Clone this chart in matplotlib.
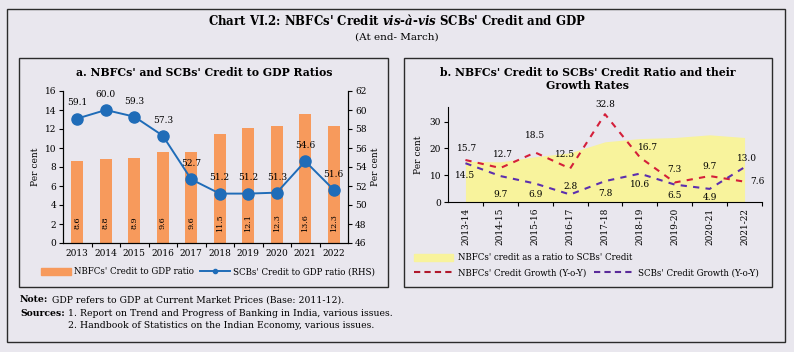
import matplotlib
matplotlib.use("Agg")
import matplotlib.pyplot as plt
from matplotlib.patches import Rectangle, Patch
from matplotlib.lines import Line2D

# ---------------- data ----------------
years = ["2013", "2014", "2015", "2016", "2017", "2018", "2019", "2020", "2021", "2022"]
nbfc_gdp = [8.6, 8.8, 8.9, 9.6, 9.6, 11.5, 12.1, 12.3, 13.6, 12.3]
scb_gdp = [59.1, 60.0, 59.3, 57.3, 52.7, 51.2, 51.2, 51.3, 54.6, 51.6]

fy = ["2013-14", "2014-15", "2015-16", "2016-17", "2017-18",
      "2018-19", "2019-20", "2020-21", "2021-22"]
nbfc_scb_ratio = [15.2, 15.0, 16.9, 18.4, 22.5, 23.7, 24.1, 25.1, 24.1]
nbfc_growth = [15.7, 12.7, 18.5, 12.5, 32.8, 16.7, 7.3, 9.7, 7.6]
scb_growth = [14.5, 9.7, 6.9, 2.8, 7.8, 10.6, 6.5, 4.9, 13.0]

# label offsets (points)
red_off = [(1, 8), (2, 10), (0, 12), (-4, 10), (0, 7), (6, 7), (0, 9), (0, 7), (9, 0)]
pur_off = [(0, -9), (0, -13), (0, -8), (0, 6), (0, -9), (0, -8), (0, -8), (0, -6), (2, 6)]

BG = "#e9e7ee"
ORANGE = "#f79a5c"
BLUE = "#1f6cb8"
YELLOW = "#f8f39c"
RED = "#d41f3a"
PURPLE = "#5c2fae"

plt.rcParams["font.family"] = ["DejaVu Serif"]
plt.rcParams["font.size"] = 6.5
plt.rcParams["mathtext.fontset"] = "custom"
plt.rcParams["mathtext.it"] = "DejaVu Serif:italic:bold"
plt.rcParams["mathtext.rm"] = "DejaVu Serif:bold"

W, H = 794, 352
fig = plt.figure(figsize=(W / 100, H / 100), dpi=100, facecolor=BG)


def fx(x):
    return x / W


def fy_(y):
    return 1 - y / H


def box(x0, y0, x1, y1, lw=1.0):
    fig.patches.append(Rectangle((fx(x0), fy_(y1)), fx(x1) - fx(x0), fy_(y0) - fy_(y1),
                                 transform=fig.transFigure, fill=False,
                                 edgecolor="#2b2b2b", linewidth=lw))


box(7, 9, 785, 342)
box(19, 58, 388, 287)
box(404, 58, 772, 287)

fig.text(0.5, fy_(22), "Chart VI.2: NBFCs' Credit $\\it{vis}$-$\\it{\\`a}$-$\\it{vis}$ SCBs' Credit and GDP",
         ha="center", va="center", fontsize=8.5, fontweight="bold")
fig.text(0.5, fy_(37), "(At end- March)", ha="center", va="center", fontsize=7.5)

# ---------------- panel a ----------------
ax = fig.add_axes([fx(63), fy_(243), fx(348) - fx(63), fy_(91) - fy_(243)])
ax.set_facecolor(BG)
x = list(range(len(years)))
ax.bar(x, nbfc_gdp, width=0.42, color=ORANGE, zorder=2)
for xi, v in zip(x, nbfc_gdp):
    ax.text(xi, 2.1, f"{v:.1f}", rotation=90, ha="center", va="center", fontsize=5.8, zorder=3)
ax.set_ylim(0, 16)
ax.set_yticks(range(0, 17, 2))
ax.set_xlim(-0.5, len(years) - 0.5)
ax.set_xticks([i + 0.5 for i in range(len(years) - 1)])
ax.set_xticklabels([])
ax.set_xticks(x, minor=True)
ax.set_xticklabels(years, minor=True)
ax.tick_params(axis="x", which="minor", length=0, pad=4)
ax.tick_params(axis="x", which="major", length=3)
ax.tick_params(axis="y", length=3, pad=2)
ax.set_ylabel("Per cent", labelpad=3)
ax.spines["top"].set_visible(False)

ax2 = ax.twinx()
ax2.plot(x, scb_gdp, color=BLUE, lw=1.4, marker="o", markersize=8, zorder=4)
for xi, v in zip(x, scb_gdp):
    ax2.annotate(f"{v:.1f}", (xi, v), xytext=(0, 8), textcoords="offset points",
                 ha="center", va="bottom", fontsize=6.5)
ax2.set_ylim(46, 62)
ax2.set_yticks(range(46, 63, 2))
ax2.tick_params(axis="y", length=3, pad=2)
ax2.set_ylabel("Per cent", labelpad=3)
ax2.spines["top"].set_visible(False)

fig.text(fx(204), fy_(72), "a. NBFCs' and SCBs' Credit to GDP Ratios", ha="center", va="center",
         fontsize=7.8, fontweight="bold")

h1 = Patch(color=ORANGE)
h2 = Line2D([], [], color=BLUE, lw=1.4, marker="o", markersize=3)
fig.legend([h1, h2], ["NBFCs' Credit to GDP ratio", "SCBs' Credit to GDP ratio (RHS)"],
           loc="center", bbox_to_anchor=(fx(208), fy_(272)), ncol=2, frameon=False,
           fontsize=6.2, handlelength=3.5, handletextpad=0.4, columnspacing=0.6)

# ---------------- panel b ----------------
bx = fig.add_axes([fx(448), fy_(202), fx(762) - fx(448), fy_(107) - fy_(202)])
bx.set_facecolor(BG)
xb = list(range(len(fy)))
bx.fill_between(xb, nbfc_scb_ratio, 0, color=YELLOW, lw=0, zorder=1)
bx.plot(xb, nbfc_growth, color=RED, lw=1.5, ls=(0, (3, 3)), zorder=3)
bx.plot(xb, scb_growth, color=PURPLE, lw=1.5, ls=(0, (3, 3)), zorder=3)
for xi, v, o in zip(xb, nbfc_growth, red_off):
    bx.annotate(f"{v:.1f}", (xi, v), xytext=o, textcoords="offset points",
                ha="center", va="center", fontsize=6.5, zorder=4)
for xi, v, o in zip(xb, scb_growth, pur_off):
    bx.annotate(f"{v:.1f}", (xi, v), xytext=o, textcoords="offset points",
                ha="center", va="center", fontsize=6.5, zorder=4)
bx.set_ylim(0, 35.5)
bx.set_yticks([0, 10, 20, 30])
bx.set_xlim(-0.5, len(fy) - 0.5)
bx.set_xticks([i + 0.5 for i in range(len(fy))])
bx.set_xticklabels([])
bx.set_xticks(xb, minor=True)
bx.set_xticklabels(fy, minor=True, rotation=90)
bx.tick_params(axis="x", which="minor", length=0, pad=4)
bx.tick_params(axis="x", which="major", length=3)
bx.tick_params(axis="y", length=3, pad=2)
bx.set_ylabel("Per cent", labelpad=5)
for s in ["top", "right"]:
    bx.spines[s].set_visible(False)

fig.text(fx(588), fy_(79), "b. NBFCs' Credit to SCBs' Credit Ratio and their\nGrowth Rates",
         ha="center", va="center", fontsize=7.8, fontweight="bold", linespacing=1.25)

hy = Patch(color=YELLOW)
fig.legend([hy], ["NBFCs' credit as a ratio to SCBs' Credit"], loc="center left",
           bbox_to_anchor=(fx(411), fy_(258)), frameon=False, fontsize=6.2,
           handlelength=4.5, handletextpad=0.5, borderaxespad=0)
hr = Line2D([], [], color="#b0182c", lw=1.5, ls=(0, (3, 2)))
hp = Line2D([], [], color="#5a2a9a", lw=1.5, ls=(0, (3, 2)))
fig.legend([hr, hp], ["NBFCs' Credit Growth (Y-o-Y)", "SCBs' Credit Growth (Y-o-Y)"],
           loc="center left", bbox_to_anchor=(fx(411), fy_(273)), ncol=2, frameon=False,
           fontsize=6.2, handlelength=4.5, handletextpad=0.5, columnspacing=1.0,
           borderaxespad=0)

# ---------------- footnotes ----------------
fig.text(fx(20), fy_(300), "Note:", fontweight="bold", va="center", fontsize=6.7)
fig.text(fx(52), fy_(300), "GDP refers to GDP at Current Market Prices (Base: 2011-12).",
         va="center", fontsize=6.7)
fig.text(fx(20), fy_(313), "Sources:", fontweight="bold", va="center", fontsize=6.7)
fig.text(fx(68), fy_(313), "1. Report on Trend and Progress of Banking in India, various issues.",
         va="center", fontsize=6.7)
fig.text(fx(68), fy_(326), "2. Handbook of Statistics on the Indian Economy, various issues.",
         va="center", fontsize=6.7)

fig.savefig("out.png", dpi=100, facecolor=BG)
